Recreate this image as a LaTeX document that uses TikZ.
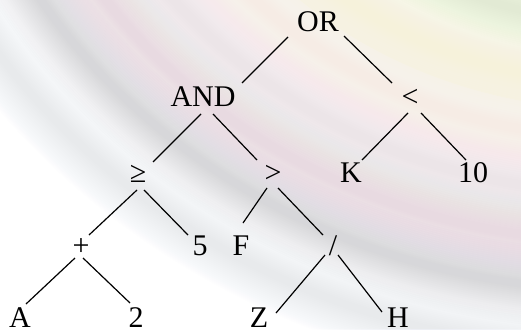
\documentclass[tikz,border=0pt]{standalone}
\usepackage{fontspec}
\setmainfont{Liberation Serif}
\usetikzlibrary{calc}
\definecolor{creamcore}{RGB}{254,253,240}
% connector between two labels, each end given as an offset from the label's base point
\newcommand\treeedge[4]{\draw[edge] ($(#1.base)+(#2)$) -- ($(#3.base)+(#4)$);}
\begin{document}
\begin{tikzpicture}[x=1pt,y=1pt,
  lbl/.style={anchor=base, inner sep=0pt, font=\fontsize{30}{36}\selectfont},
  edge/.style={line width=1.2pt, black},
  band/.style={line width=#1, opacity=0.025}]
\useasboundingbox (0,0) rectangle (521,-329);

% soft swirl in the background: each band is a stack of faint strokes of shrinking width
\begin{scope}
  \clip (0,0) rectangle (521,-329);
  \fill[white] (0,0) rectangle (521,-329);
  \fill[creamcore] (620,320) ellipse [x radius=480pt, y radius=430pt];
  \foreach \s/\r/\g/\b/\w in {1.10/205/210/225/70, 1.0/165/165/178/80, 0.92/205/178/192/80,
                               0.84/232/200/205/85, 0.75/246/228/200/85, 0.66/246/242/195/80,
                               0.56/195/228/180/70} {
    \definecolor{bandcol}{RGB}{\r,\g,\b}
    \foreach \k in {1,0.95,...,0.05}
      \draw[bandcol, band={\k*\w*1pt}] (620,320) ellipse [x radius={680pt*\s}, y radius={610pt*\s}];
  }
\end{scope}

% labels
\node[lbl] (OR)   at (318,-32)  {OR};
\node[lbl] (AND)  at (203,-106) {AND};
\node[lbl] (lt)   at (410,-106) {<};
\node[lbl] (ge)   at (138,-182) {≥};
\node[lbl] (gt)   at (273,-182) {>};
\node[lbl] (K)    at (351,-182) {K};
\node[lbl] (ten)  at (473,-182) {10};
\node[lbl] (plus) at (81,-255)  {+};
\node[lbl] (five) at (200,-255) {5};
\node[lbl] (F)    at (241,-255) {F};
\node[lbl] (div)  at (333,-255) {/};
\node[lbl] (A)    at (20,-327)  {A};
\node[lbl] (two)  at (136,-327) {2};
\node[lbl] (Z)    at (259,-327) {Z};
\node[lbl] (H)    at (398,-327) {H};

% tree edges
\treeedge{OR}{-30,-5}{AND}{39,23}
\treeedge{OR}{26,-4}{lt}{-18,23}
\treeedge{AND}{-2,-8}{ge}{15,20}
\treeedge{AND}{10,-8}{gt}{-16,22}
\treeedge{lt}{-2,-7}{K}{11,22}
\treeedge{lt}{11,-7}{ten}{-7,22}
\treeedge{ge}{-1,-8}{plus}{8,20}
\treeedge{ge}{6,-8}{five}{-12,20}
\treeedge{gt}{-6,-6}{F}{2,32}
\treeedge{gt}{5,-6}{div}{-10,20}
\treeedge{plus}{-6,-3}{A}{6,23}
\treeedge{plus}{2,-3}{two}{-6,24}
\treeedge{div}{-8,0}{Z}{17,14}
\treeedge{div}{5,0}{H}{-16,15}
\end{tikzpicture}
\end{document}
